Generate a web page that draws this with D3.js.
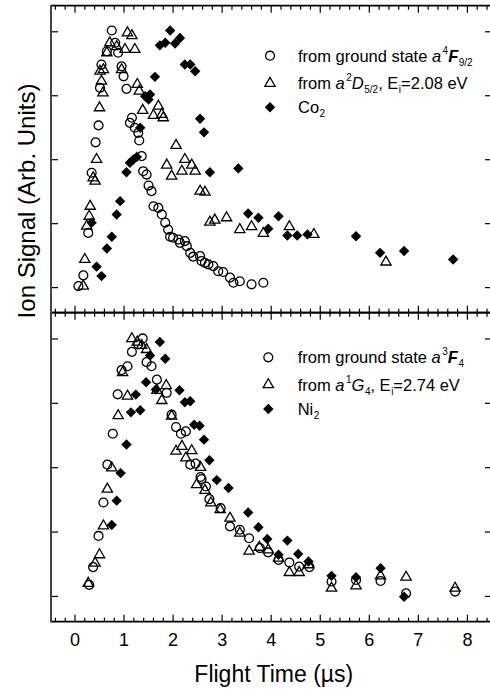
<!DOCTYPE html>
<html>
<head>
<meta charset="utf-8">
<script src="https://cdn.jsdelivr.net/npm/d3@7"></script>
<style>
  body { margin: 0; background: #fff; }
  svg { display: block; font-family: "Liberation Sans", Arial, sans-serif; }
</style>
</head>
<body>
<div id="chart"></div>
<script>
// ---- data: [flight time (us), normalised ion signal] ----
const coGround = [
  [0.08,0.004],[0.18,0.046],[0.28,0.212],[0.35,0.447],[0.43,0.566],[0.49,0.632],[0.52,0.779],
  [0.55,0.870],[0.66,0.922],[0.76,1.003],[0.83,0.955],[0.89,0.916],[0.96,0.863],[1.00,0.824],
  [1.06,0.775],[1.13,0.642],[1.17,0.662],[1.23,0.623],[1.30,0.603],[1.32,0.573],[1.37,0.512],
  [1.40,0.453],[1.47,0.440],[1.51,0.397],[1.57,0.375],[1.61,0.316],[1.71,0.310],[1.78,0.284],
  [1.85,0.252],[1.91,0.225],[1.95,0.197],[2.01,0.193],[2.12,0.186],[2.15,0.173],[2.25,0.180],
  [2.29,0.160],[2.36,0.134],[2.42,0.119],[2.56,0.121],[2.59,0.102],[2.66,0.095],[2.73,0.089],
  [2.83,0.082],[2.93,0.062],[3.03,0.059],[3.17,0.037],[3.24,0.017],[3.37,0.023],[3.61,0.011],
  [3.85,0.017]
];
const coExcited = [
  [0.18,0.004],[0.21,0.108],[0.25,0.238],[0.30,0.277],[0.32,0.316],[0.38,0.427],[0.42,0.414],
  [0.45,0.499],[0.51,0.701],[0.58,0.759],[0.55,0.805],[0.52,0.844],[0.59,0.850],[0.66,0.916],
  [0.72,0.955],[0.86,0.940],[0.96,0.850],[1.03,0.929],[1.08,0.994],[1.17,0.983],[1.23,0.929],
  [1.28,0.792],[1.32,0.766],[1.39,0.691],[1.61,0.671],[1.71,0.707],[1.78,0.675],[1.81,0.662],
  [2.07,0.554],[1.88,0.477],[1.98,0.434],[2.19,0.453],[2.25,0.499],[2.39,0.477],[2.46,0.453],
  [2.56,0.375],[2.66,0.371],[2.76,0.254],[2.86,0.262],[3.10,0.271],[3.37,0.225],[3.61,0.236],
  [3.85,0.210],[4.38,0.236],[4.88,0.206],[6.35,0.098]
];
const coDimer = [
  [0.35,0.252],[0.45,0.080],[0.55,0.043],[0.66,0.151],[0.76,0.197],[0.86,0.284],[0.93,0.336],
  [1.06,0.449],[1.13,0.486],[1.20,0.499],[1.27,0.509],[1.34,0.623],[1.44,0.746],[1.51,0.733],
  [1.54,0.753],[1.64,0.822],[1.74,0.945],[1.85,0.955],[1.95,1.003],[2.05,0.952],[2.15,0.974],
  [2.25,0.870],[2.36,0.870],[2.46,0.844],[2.56,0.658],[2.64,0.605],[2.76,0.449],[3.34,0.464],
  [3.54,0.288],[3.75,0.271],[3.95,0.228],[4.16,0.277],[4.34,0.202],[4.54,0.202],[4.75,0.206],
  [5.74,0.199],[6.23,0.134],[6.72,0.141],[7.72,0.108]
];
const niGround = [
  [0.30,0.043],[0.38,0.112],[0.49,0.233],[0.59,0.363],[0.67,0.510],[0.78,0.630],[0.88,0.783],
  [0.96,0.877],[1.08,0.892],[1.17,0.948],[1.30,0.977],[1.39,1.000],[1.47,0.908],[1.57,0.892],
  [1.68,0.840],[1.88,0.789],[1.98,0.704],[2.07,0.656],[2.17,0.630],[2.27,0.639],[2.36,0.510],
  [2.47,0.514],[2.57,0.462],[2.59,0.454],[2.68,0.425],[2.75,0.376],[2.98,0.341],[3.17,0.270],
  [3.37,0.257],[3.56,0.224],[3.78,0.186],[3.95,0.169],[4.16,0.140],[4.38,0.130],[4.58,0.114],
  [4.79,0.112],[5.24,0.056],[5.74,0.062],[6.24,0.058],[6.76,0.010],[7.76,0.017]
];
const niExcited = [
  [0.28,0.049],[0.42,0.127],[0.51,0.160],[0.59,0.272],[0.67,0.415],[0.76,0.497],[0.89,0.700],
  [0.98,0.867],[1.08,0.776],[1.17,0.999],[1.28,0.986],[1.37,0.973],[1.47,0.957],[1.68,0.798],
  [1.78,0.759],[1.87,0.817],[1.98,0.698],[2.07,0.562],[2.19,0.581],[2.27,0.536],[2.39,0.564],
  [2.49,0.432],[2.57,0.499],[2.66,0.410],[2.78,0.361],[2.97,0.335],[3.17,0.302],[3.37,0.244],
  [3.56,0.174],[3.77,0.189],[3.95,0.179],[4.16,0.147],[4.38,0.091],[4.58,0.091],[4.77,0.121],
  [5.24,0.030],[5.74,0.039],[6.24,0.078],[6.76,0.073],[7.76,0.030]
];
const niDimer = [
  [0.76,0.276],[0.86,0.370],[0.94,0.477],[1.06,0.588],[1.15,0.713],[1.25,0.782],[1.34,0.721],
  [1.46,0.830],[1.54,0.934],[1.66,0.802],[1.74,0.986],[1.85,0.921],[2.14,0.799],[2.25,0.752],
  [2.36,0.756],[2.44,0.665],[2.55,0.661],[2.64,0.607],[2.75,0.527],[2.90,0.450],[3.14,0.419],
  [3.54,0.324],[3.75,0.267],[3.93,0.221],[4.16,0.160],[4.34,0.215],[4.56,0.163],[4.77,0.134],
  [5.24,0.078],[5.74,0.073],[6.24,0.108],[6.72,-0.003]
];

const xMajor = [0, 1, 2, 3, 4, 5, 6, 7, 8];
const yMajor = [0, 0.25, 0.5, 0.75, 1];

const coLegend = [
  [{ t: "from ground state " }, { t: "a", s: "i" }, { t: "4", s: "sup" }, { t: "F", s: "bi" }, { t: "9/2", s: "sub" }],
  [{ t: "from " }, { t: "a", s: "i" }, { t: "2", s: "sup" }, { t: "D", s: "i" }, { t: "5/2", s: "sub" },
   { t: ", E" }, { t: "i", s: "sub" }, { t: "=2.08 eV" }],
  [{ t: "Co" }, { t: "2", s: "sub" }]
];
const niLegend = [
  [{ t: "from ground state " }, { t: "a", s: "i" }, { t: "3", s: "sup" }, { t: "F", s: "bi" }, { t: "4", s: "sub" }],
  [{ t: "from " }, { t: "a", s: "i" }, { t: "1", s: "sup" }, { t: "G", s: "i" }, { t: "4", s: "sub" },
   { t: ", E" }, { t: "i", s: "sub" }, { t: "=2.74 eV" }],
  [{ t: "Ni" }, { t: "2", s: "sub" }]
];

// ---- layout ----
const W = 490, H = 691;
const svg = d3.select("#chart").append("svg").attr("width", W).attr("height", H);

const x = d3.scaleLinear().domain([-0.479, 8.471]).range([51, 490]);
const xMinor = d3.range(-0.4, 8.41, 0.2).filter(v => Math.abs(v - Math.round(v)) > 0.01);

const panels = [
  { top: 5.7, bottom: 312.7, series: [coGround, coExcited, coDimer], legend: coLegend,
    lx: 270, tx: 298, base: [61.7, 89.3, 113.3] },
  { top: 312.7, bottom: 621.7, series: [niGround, niExcited, niDimer], legend: niLegend,
    lx: 268.3, tx: 297.7, base: [363.3, 390.7, 415] }
];

const symCircle = d3.symbol().type(d3.symbolCircle).size(62)();
const symTri = d3.symbol().type(d3.symbolTriangle).size(46)();
const symDia = d3.symbol().type(d3.symbolSquare).size(54)();

function marker(g, kind, px, py) {
  const p = g.append("path").attr("transform", "translate(" + px + "," + py + ")" + (kind === 2 ? " rotate(45)" : ""));
  if (kind === 0) p.attr("d", symCircle).attr("fill", "none").attr("stroke", "#000").attr("stroke-width", 1.3);
  else if (kind === 1) p.attr("d", symTri).attr("fill", "none").attr("stroke", "#000").attr("stroke-width", 1.3);
  else p.attr("d", symDia).attr("fill", "#000");
}

function styleAxis(g) {
  g.select(".domain").remove();
  g.selectAll("line").attr("stroke", "#000").attr("stroke-width", 1.2);
}

panels.forEach((p, i) => {
  const y = d3.scaleLinear().domain([-0.1, 1.1]).range([p.bottom, p.top]);
  const g = svg.append("g");

  // bottom axis: majors, minors
  const bot = g.append("g").attr("transform", "translate(0," + p.bottom + ")")
    .call(d3.axisBottom(x).tickValues(xMajor).tickSizeInner(-7).tickSizeOuter(0).tickPadding(12)
      .tickFormat(i === 1 ? d3.format("d") : ""));
  styleAxis(bot);
  bot.selectAll("text").attr("font-size", 18).attr("fill", "#000").attr("font-family", null);
  styleAxis(g.append("g").attr("transform", "translate(0," + p.bottom + ")")
    .call(d3.axisBottom(x).tickValues(xMinor).tickSizeInner(-4).tickSizeOuter(0).tickFormat("")));

  // top axis
  styleAxis(g.append("g").attr("transform", "translate(0," + p.top + ")")
    .call(d3.axisTop(x).tickValues(xMajor).tickSizeInner(-7).tickSizeOuter(0).tickFormat("")));
  styleAxis(g.append("g").attr("transform", "translate(0," + p.top + ")")
    .call(d3.axisTop(x).tickValues(xMinor).tickSizeInner(-4).tickSizeOuter(0).tickFormat("")));

  // y axes, no labels
  styleAxis(g.append("g").attr("transform", "translate(51,0)")
    .call(d3.axisLeft(y).tickValues(yMajor).tickSizeInner(-7).tickSizeOuter(0).tickFormat("")));
  styleAxis(g.append("g").attr("transform", "translate(490,0)")
    .call(d3.axisRight(y).tickValues(yMajor).tickSizeInner(-5).tickSizeOuter(0).tickFormat("")));

  // frame lines
  g.append("line").attr("x1", 51).attr("x2", 490).attr("y1", p.top).attr("y2", p.top)
    .attr("stroke", "#000").attr("stroke-width", 1.8);
  g.append("line").attr("x1", 51).attr("x2", 490).attr("y1", p.bottom).attr("y2", p.bottom)
    .attr("stroke", "#000").attr("stroke-width", 1.8);

  // data
  const dg = g.append("g");
  p.series.forEach((s, k) => {
    s.forEach(d => marker(dg, k, x(d[0]), y(d[1])));
  });

  // legend
  p.legend.forEach((row, r) => {
    const base = p.base[r];
    marker(g, r, p.lx, base - 6);
    const t = g.append("text").attr("x", p.tx).attr("y", base).attr("font-size", 16.5).attr("fill", "#000");
    row.forEach(seg => {
      const ts = t.append("tspan").text(seg.t);
      if (seg.s === "i") ts.attr("font-style", "italic");
      if (seg.s === "bi") ts.attr("font-style", "italic").attr("font-weight", "bold");
      if (seg.s === "sup") ts.attr("font-size", 10).attr("y", base - 8).attr("dx", 1.5);
      else if (seg.s === "sub") ts.attr("font-size", 10).attr("y", base + 4).attr("dx", 0.5);
      else ts.attr("y", base);
    });
  });
});

// left axis line (grey, thicker)
svg.append("line").attr("x1", 51).attr("x2", 51).attr("y1", 5).attr("y2", 622.5)
  .attr("stroke", "#444").attr("stroke-width", 2);

// axis titles
svg.append("text").attr("x", 273.8).attr("y", 681.5).attr("text-anchor", "middle")
  .attr("font-size", 23).text("Flight Time (\u00b5s)");
svg.append("text").attr("transform", "rotate(-90)").attr("x", -201).attr("y", 35)
  .attr("text-anchor", "middle").attr("font-size", 24).text("Ion Signal (Arb. Units)");
</script>
</body>
</html>
